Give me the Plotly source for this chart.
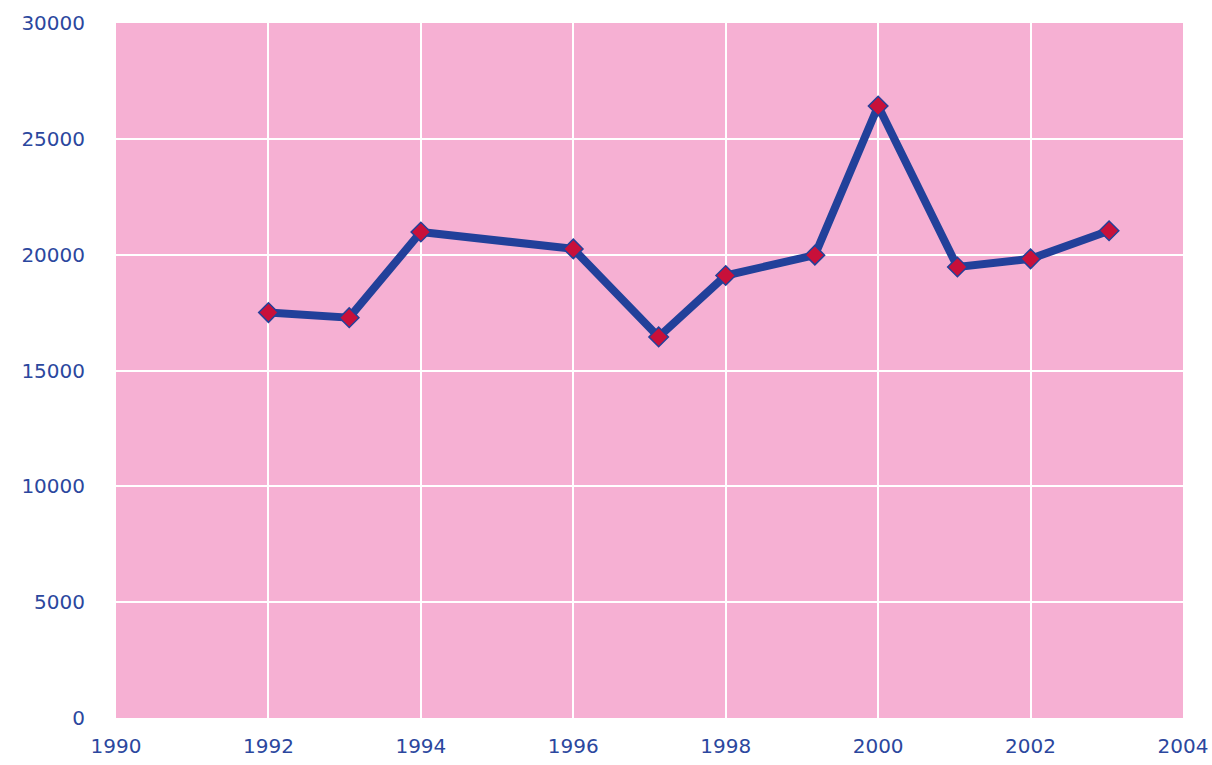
import plotly.graph_objects as go

years = [1992, 1993.06, 1994, 1996, 1997.12, 1998, 1999.17, 2000, 2001.04, 2002, 2003.03]
values = [17500, 17280, 20980, 20250, 16450, 19100, 19980, 26420, 19470, 19820, 21030]

x_ticks = [1990, 1992, 1994, 1996, 1998, 2000, 2002, 2004]
y_ticks = [0, 5000, 10000, 15000, 20000, 25000, 30000]
y_tick_labels = ["0", "5000", "10000", "15000", "20000", "25000", "30000"]

font_color = "#2B479E"
tick_font = dict(family="DejaVu Sans, sans-serif", size=20, color=font_color)

fig = go.Figure()
fig.add_trace(go.Scatter(
    x=years, y=values, mode="lines+markers",
    line=dict(color="#22409A", width=8),
    marker=dict(symbol="diamond", size=15, color="#C8103A",
                line=dict(color="#22409A", width=1.5)),
    showlegend=False,
))

fig.update_layout(
    width=1212, height=765,
    margin=dict(l=116, r=29, t=23, b=47, autoexpand=False),
    paper_bgcolor="white",
    plot_bgcolor="#F6B0D3",
    font=dict(family="DejaVu Sans, sans-serif", size=20, color=font_color),
)
fig.update_xaxes(
    range=[1990, 2004], tickvals=x_ticks,
    showgrid=True, gridcolor="white", gridwidth=2,
    zeroline=False, showline=False, ticks="",
    ticklabelstandoff=14, automargin=False,
    tickfont=tick_font,
)
fig.update_yaxes(
    range=[0, 30000], tickvals=y_ticks, ticktext=y_tick_labels,
    showgrid=True, gridcolor="white", gridwidth=2,
    zeroline=False, showline=False, ticks="",
    ticklabelstandoff=30, automargin=False,
    tickfont=tick_font,
)

fig.write_html(
    "out.html",
    config={"displayModeBar": False},
    post_script="document.body.style.margin='0';document.body.style.overflow='hidden';",
)
